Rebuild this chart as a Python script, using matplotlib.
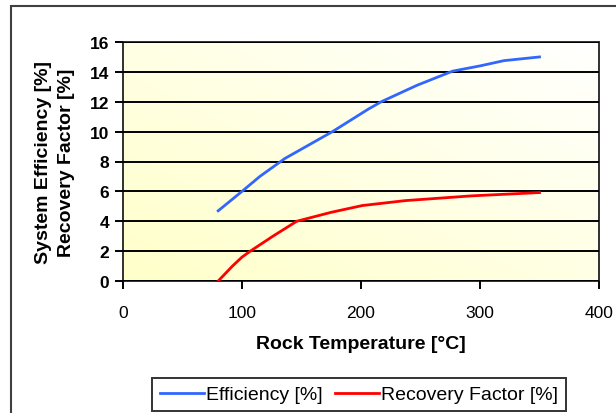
import numpy as np
import matplotlib.pyplot as plt
from matplotlib.patches import Rectangle

plt.rcParams['font.family'] = ['Liberation Sans', 'DejaVu Sans']

# Data
eff_temp = [80, 100, 115, 136, 176, 206, 217, 247, 277, 300, 320, 350]
eff_val = [4.7, 6.0, 7.0, 8.2, 10.0, 11.5, 12.0, 13.1, 14.05, 14.4, 14.75, 15.0]
rec_temp = [80, 92, 100, 107, 126, 146, 175, 201, 237, 293, 350]
rec_val = [0.0, 1.0, 1.6, 2.0, 3.0, 4.0, 4.6, 5.05, 5.38, 5.7, 5.92]

x_ticks = [0, 100, 200, 300, 400]
y_ticks = [0, 2, 4, 6, 8, 10, 12, 14, 16]

W, H = 616, 414
fig = plt.figure(figsize=(W / 100, H / 100), dpi=100)
ax = fig.add_axes([123 / W, 1 - 282 / H, (599 - 123) / W, (282 - 43) / H])

# pale yellow -> white diagonal gradient behind the plot
gx, gy = np.meshgrid(np.linspace(0, 1, 200), np.linspace(0, 1, 200))
t = np.clip((gx + gy) / 2, 0, 1)
c0 = np.array([1.0, 1.0, 0.79])
c1 = np.array([1.0, 1.0, 1.0])
grad = c0[None, None, :] * (1 - t[..., None]) + c1[None, None, :] * t[..., None]
ax.imshow(grad, extent=[0, 1, 0, 1], transform=ax.transAxes, origin='lower',
          aspect='auto', zorder=0)

ax.plot(eff_temp, eff_val, color='#3366FF', lw=2.0, label='Efficiency [%]', zorder=3)
ax.plot(rec_temp, rec_val, color='#FF0000', lw=2.0, label='Recovery Factor [%]', zorder=3)

ax.set_xlim(0, 400)
ax.set_ylim(0, 16)
ax.set_xticks(x_ticks)
ax.set_yticks(y_ticks)
ax.yaxis.grid(True, color='black', lw=1.4, zorder=1)
ax.set_axisbelow(False)
for s in ax.spines.values():
    s.set_color('#303030')
    s.set_linewidth(1.4)
ax.tick_params(axis='x', direction='out', length=6, width=1.4, pad=11, labelsize=12.5)
ax.tick_params(axis='y', direction='out', length=6, width=1.4, pad=4, labelsize=12.5)
for lab in ax.get_yticklabels():
    lab.set_fontweight('bold')

ax.set_xlabel('Rock Temperature [°C]', fontsize=14, fontweight='bold', va='top')
ax.xaxis.set_label_coords(0.5, -0.225)
ax.set_ylabel('System Efficiency [%]\nRecovery Factor [%]', fontsize=14,
              fontweight='bold', linespacing=1.5)
ax.yaxis.set_label_coords(-0.1, 0.5)

leg = ax.legend(loc='upper center', bbox_to_anchor=(359 / W, 1 - 379 / H),
                bbox_transform=fig.transFigure, ncol=2, fontsize=14,
                frameon=True, fancybox=False, handlelength=2.3,
                handletextpad=0.1, columnspacing=0.6, borderpad=0.4,
                borderaxespad=0)
leg.get_frame().set_edgecolor('black')
leg.get_frame().set_linewidth(1.4)

# outer chart border (right and bottom edges fall outside the image)
fig.patches.append(Rectangle((11 / W, -0.1), 2, 1 - 7 / H + 0.1,
                             transform=fig.transFigure, fill=False,
                             edgecolor='#404040', lw=1.5))

fig.savefig('out.png', dpi=100)
